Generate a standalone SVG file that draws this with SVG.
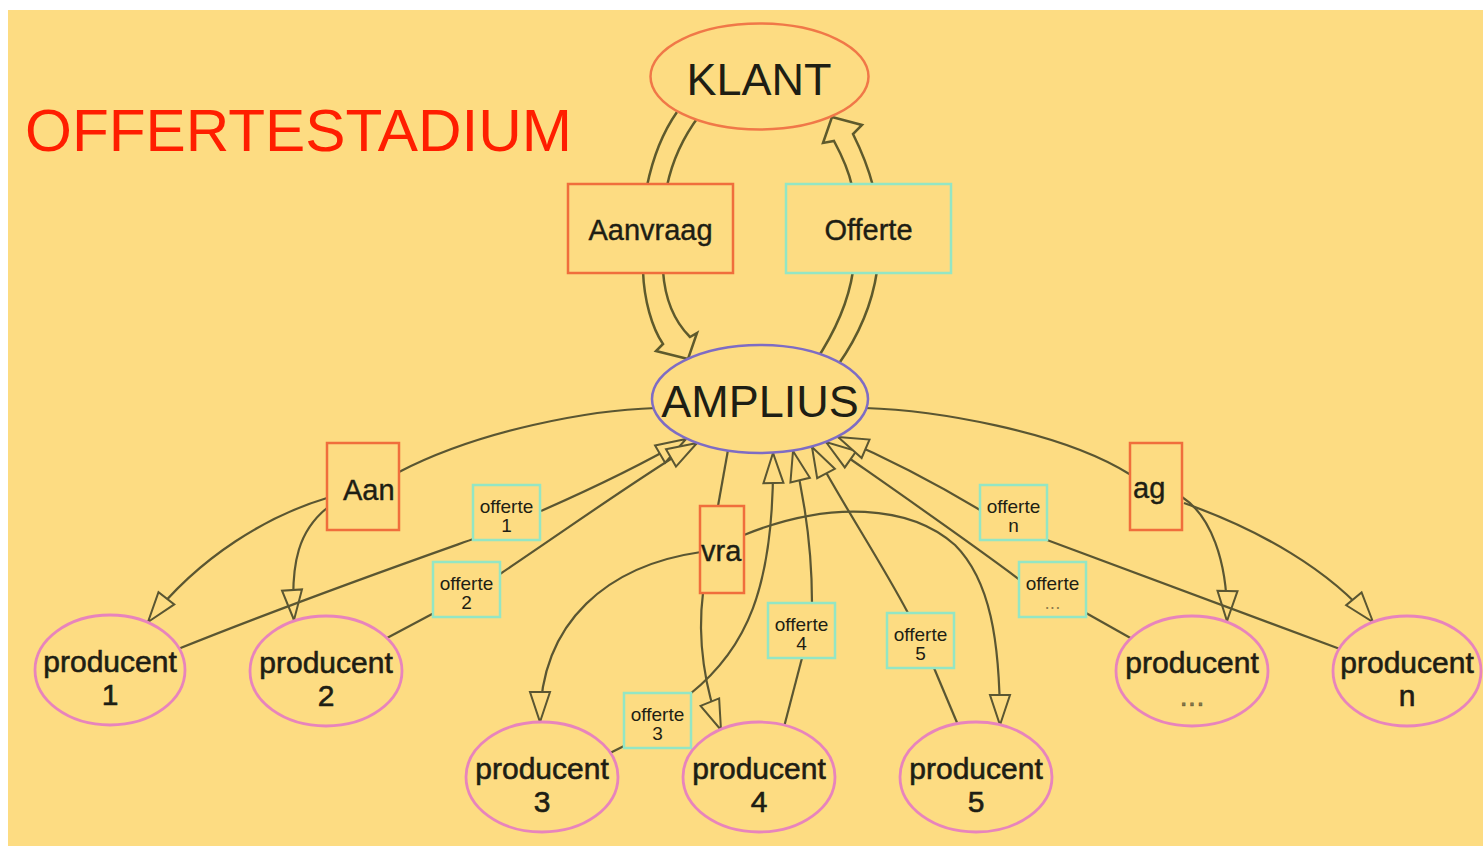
<svg xmlns="http://www.w3.org/2000/svg" width="1483" height="846" viewBox="0 0 1483 846">
<defs>
<style>
.bg{fill:#FDDC82}
.edge{fill:none;stroke:#5a5632;stroke-width:2.2}
.arr{marker-end:url(#hollow)}
.band{fill:none;stroke:#5e5a2c;stroke-width:2.5;stroke-linejoin:miter}
.lblA{fill:#FDDC82;stroke:#F06E3C;stroke-width:2.5}
.lblO{fill:#FDDC82;stroke:#94E6C4;stroke-width:2.5}
.prod{fill:#FDDC82;stroke:#E884BC;stroke-width:2.8}
.t{font-family:"Liberation Sans",Arial,sans-serif;fill:#1e1e14}
.tp{font-size:30px;text-anchor:middle;stroke:#1e1e14;stroke-width:0.6}
.ts{font-size:19px;text-anchor:middle}
.tl{font-size:29px;stroke:#1e1e14;stroke-width:0.4}
</style>
<marker id="hollow" markerUnits="userSpaceOnUse" orient="auto" refX="0" refY="0" markerWidth="40" markerHeight="30" overflow="visible">
<path d="M0,0 L-30,-10 L-30,10 Z" fill="#FDDC82" stroke="#5a5632" stroke-width="2"/>
</marker>
</defs>
<rect x="0" y="0" width="1483" height="846" fill="#ffffff"/>
<rect class="bg" x="8" y="10" width="1475" height="836"/>
<text id="title" x="25" y="151" font-family="Liberation Sans, Arial, sans-serif" font-size="60" fill="#FF1E00" textLength="547" lengthAdjust="spacingAndGlyphs">OFFERTESTADIUM</text>

<g id="connectors">
<!-- KLANT to AMPLIUS band arrow (Aanvraag) -->
<path class="band" d="M677,112 Q656,142 647,186"/>
<path class="band" d="M699,116 Q675,148 667,186"/>
<path class="band" d="M643,271 C644,300 652,328 663,344 L656,351 L688,359 L697,333 L690,337 C675,322 665,300 663,271"/>
<!-- AMPLIUS to KLANT band arrow (Offerte) -->
<path class="band" d="M815,362 C833,335 848,305 853,271"/>
<path class="band" d="M838,365 C857,338 872,305 877,271"/>
<path class="band" d="M852,186 C848,168 841,154 834,141 L823,143 L832,117 L862,125 L853,134 C861,150 868,167 873,186"/>

<!-- Aanvraag to producers -->
<path class="edge" d="M656,408 C590,410 480,430 399,472"/>
<path class="edge arr" d="M327,498 C270,515 200,555 148,622"/>
<path class="edge arr" d="M327,508 C300,530 290,560 294,620"/>
<path class="edge" d="M728,450 L718,506"/>
<path class="edge arr" d="M701,552 C610,565 540,620 540,722"/>
<path class="edge arr" d="M703,593 C697,640 705,690 721,730"/>
<path class="edge arr" d="M744,535 C830,500 910,505 955,545 C990,580 1000,640 1000,725"/>
<path class="edge" d="M865,408 C930,410 1060,430 1131,475"/>
<path class="edge arr" d="M1182,497 C1210,515 1228,560 1227,621"/>
<path class="edge arr" d="M1184,503 C1260,530 1330,570 1373,622"/>

<!-- Offertes back to AMPLIUS -->
<path class="edge" d="M178,649 C300,600 400,565 476,538"/>
<path class="edge arr" d="M541,511 C600,485 650,460 686,439"/>
<path class="edge" d="M387,638 L434,613"/>
<path class="edge arr" d="M500,574 C580,520 650,470 697,443"/>
<path class="edge" d="M608,754 L626,745"/>
<path class="edge arr" d="M690,694 C745,650 775,590 773,453"/>
<path class="edge" d="M784,727 L802,658"/>
<path class="edge arr" d="M812,603 C812,550 805,500 793,451"/>
<path class="edge" d="M958,725 L934,668"/>
<path class="edge arr" d="M908,613 C880,560 840,500 812,447"/>
<path class="edge" d="M1134,640 L1086,613"/>
<path class="edge arr" d="M1020,580 C960,535 880,480 826,442"/>
<path class="edge" d="M1340,649 L1047,540"/>
<path class="edge arr" d="M980,510 C930,480 880,455 838,437"/>
</g>

<g id="label-aanvraag">
<rect class="lblA" x="568" y="184" width="165" height="89"/>
<text class="t tl" x="650.5" y="240" text-anchor="middle">Aanvraag</text>
</g>
<g id="label-offerte">
<rect class="lblO" x="786" y="184" width="165" height="89"/>
<text class="t tl" x="868.5" y="240" text-anchor="middle">Offerte</text>
</g>
<g id="label-aan">
<rect class="lblA" x="327" y="443" width="72" height="87"/>
<text class="t tl" x="343" y="500">Aan</text>
</g>
<g id="label-vra">
<rect class="lblA" x="700" y="506" width="44" height="87"/>
<text class="t tl" x="701" y="561">vra</text>
</g>
<g id="label-ag">
<rect class="lblA" x="1130" y="443" width="52" height="87"/>
<text class="t tl" x="1133" y="498">ag</text>
</g>
<g id="label-offerte1">
<rect class="lblO" x="473" y="485" width="67" height="55"/>
<text class="t ts" x="506.5" y="513">offerte</text>
<text class="t ts" x="506.5" y="532">1</text>
</g>
<g id="label-offerte2">
<rect class="lblO" x="433" y="562" width="67" height="55"/>
<text class="t ts" x="466.5" y="590">offerte</text>
<text class="t ts" x="466.5" y="609">2</text>
</g>
<g id="label-offerte3">
<rect class="lblO" x="624" y="693" width="67" height="55"/>
<text class="t ts" x="657.5" y="721">offerte</text>
<text class="t ts" x="657.5" y="740">3</text>
</g>
<g id="label-offerte4">
<rect class="lblO" x="768" y="603" width="67" height="55"/>
<text class="t ts" x="801.5" y="631">offerte</text>
<text class="t ts" x="801.5" y="650">4</text>
</g>
<g id="label-offerte5">
<rect class="lblO" x="887" y="613" width="67" height="55"/>
<text class="t ts" x="920.5" y="641">offerte</text>
<text class="t ts" x="920.5" y="660">5</text>
</g>
<g id="label-offerten">
<rect class="lblO" x="980" y="485" width="67" height="55"/>
<text class="t ts" x="1013.5" y="513">offerte</text>
<text class="t ts" x="1013.5" y="532">n</text>
</g>
<g id="label-offertedots">
<rect class="lblO" x="1019" y="562" width="67" height="55"/>
<text class="t ts" x="1052.5" y="590">offerte</text>
<text class="t ts" x="1052.5" y="609" fill-opacity="0.5">...</text>
</g>

<g id="node-klant">
<ellipse cx="759.5" cy="76.5" rx="109" ry="53" fill="#FDDC82" stroke="#F07848" stroke-width="2.5"/>
<text class="t" x="759" y="95" font-size="45" text-anchor="middle">KLANT</text>
</g>
<g id="node-amplius">
<ellipse cx="760" cy="399" rx="108" ry="54" fill="#FDDC82" stroke="#7E6CC4" stroke-width="2.5"/>
<text class="t" x="760" y="417" font-size="45" text-anchor="middle">AMPLIUS</text>
</g>
<g id="node-producent1">
<ellipse class="prod" cx="110" cy="670" rx="75" ry="55"/>
<text class="t tp" x="110" y="672">producent</text>
<text class="t tp" x="110" y="705">1</text>
</g>
<g id="node-producent2">
<ellipse class="prod" cx="326" cy="671" rx="76" ry="55"/>
<text class="t tp" x="326" y="673">producent</text>
<text class="t tp" x="326" y="706">2</text>
</g>
<g id="node-producent3">
<ellipse class="prod" cx="542" cy="777" rx="76" ry="55"/>
<text class="t tp" x="542" y="779">producent</text>
<text class="t tp" x="542" y="812">3</text>
</g>
<g id="node-producent4">
<ellipse class="prod" cx="759" cy="777" rx="76" ry="55"/>
<text class="t tp" x="759" y="779">producent</text>
<text class="t tp" x="759" y="812">4</text>
</g>
<g id="node-producent5">
<ellipse class="prod" cx="976" cy="777" rx="76" ry="55"/>
<text class="t tp" x="976" y="779">producent</text>
<text class="t tp" x="976" y="812">5</text>
</g>
<g id="node-producentdots">
<ellipse class="prod" cx="1192" cy="671" rx="76" ry="55"/>
<text class="t tp" x="1192" y="673">producent</text>
<text class="t tp" x="1192" y="706" fill-opacity="0.55" stroke-opacity="0.55">...</text>
</g>
<g id="node-producentn">
<ellipse class="prod" cx="1407" cy="671" rx="74" ry="55"/>
<text class="t tp" x="1407" y="673">producent</text>
<text class="t tp" x="1407" y="706">n</text>
</g>
</svg>
